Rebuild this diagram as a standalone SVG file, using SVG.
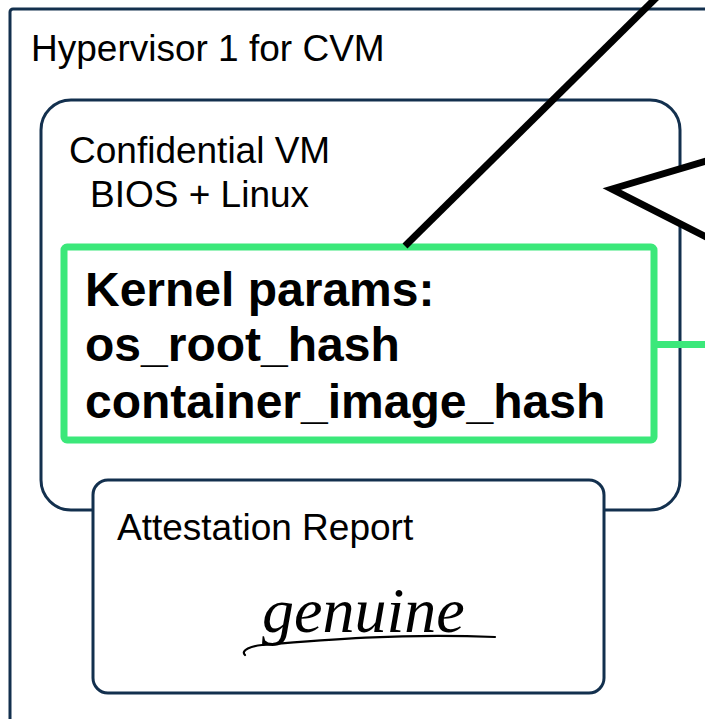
<svg xmlns="http://www.w3.org/2000/svg" width="705" height="719" viewBox="0 0 705 719">
<style>
.box{fill:#ffffff;stroke:#13304e;stroke-width:3}
.lbl{font-family:"Liberation Sans",Arial,sans-serif;font-size:37px;fill:#000}
.big{font-family:"Liberation Sans",Arial,sans-serif;font-size:48px;font-weight:bold;fill:#000}
.blk{fill:none;stroke:#000;stroke-width:7;stroke-linejoin:miter}
.grn{fill:none;stroke:#3be87a;stroke-width:7}
</style>
<rect width="705" height="719" fill="#fff"/>
<g id="hypervisor">
<rect class="box" x="10" y="9" width="740" height="740" rx="3"/>
<text class="lbl" x="31" y="61">Hypervisor 1 for CVM</text>
</g>
<g id="cvm">
<rect class="box" x="41" y="100" width="639" height="410" rx="30"/>
<text class="lbl" x="69" y="163">Confidential VM</text>
<text class="lbl" x="90" y="207">BIOS + Linux</text>
</g>
<g id="kernel-params">
<rect class="grn" x="64" y="247" width="590" height="193" rx="3"/>
<text class="big" x="85" y="306">Kernel params:</text>
<text class="big" x="85" y="361">os_root_hash</text>
<text class="big" x="85" y="418">container_image_hash</text>
</g>
<g id="attestation-report">
<rect class="box" x="93" y="480" width="511" height="213" rx="15"/>
<text class="lbl" x="117" y="540">Attestation Report</text>
<text x="262" y="632" font-family="'Liberation Serif','Times New Roman',serif" font-style="italic" font-size="64" fill="#000">genuine</text>
<path d="M245,655 C240,650 252,646 262,645 C320,640 400,633 495,637" fill="none" stroke="#000" stroke-width="2.2" stroke-linecap="round"/>
</g>
<g id="connectors">
<line class="blk" x1="405" y1="246" x2="660" y2="-6"/>
<path d="M720,157 L612,189 L720,244" fill="#fff" stroke="#000" stroke-width="7"/>
<line class="grn" x1="656" y1="344.5" x2="710" y2="344.5"/>
</g>
</svg>
